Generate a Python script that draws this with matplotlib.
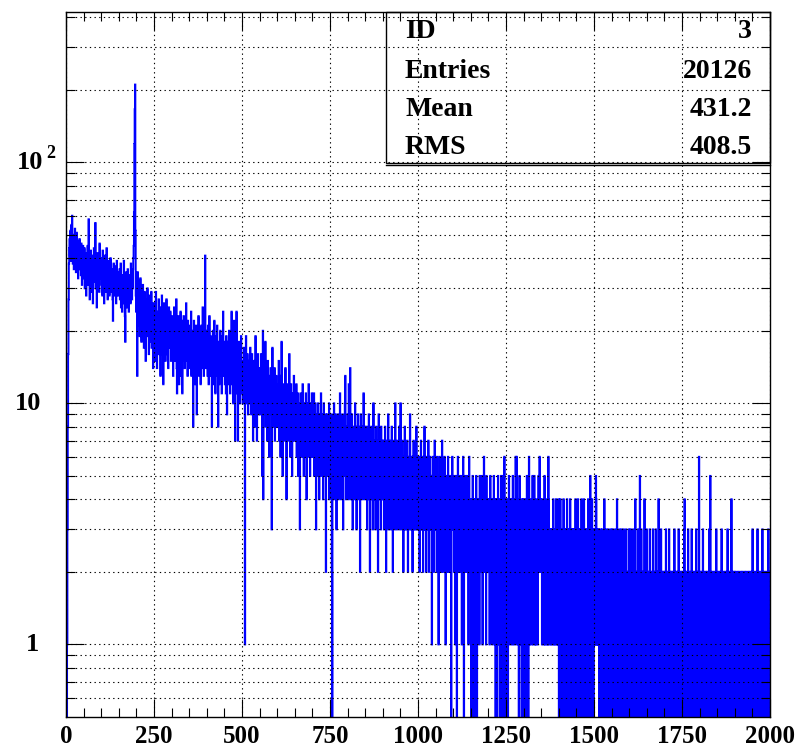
import numpy as np
import matplotlib
matplotlib.use("Agg")
import matplotlib.pyplot as plt
from matplotlib.ticker import FixedLocator, NullFormatter
import matplotlib.transforms as mtrans

# ---------------- data (counts per 1-unit bin, x from 0 to 2000) ----------------
counts_0000 = [
    0, 0, 0, 1, 3, 8, 16, 27, 38, 44,
    48, 41, 52, 39, 45, 55, 43, 60, 47, 38,
    50, 44, 36, 49, 42, 53, 40, 46, 35, 44,
    51, 39, 43, 47, 33, 45, 41, 38, 48, 36,
    44, 40, 34, 46, 39, 31, 42, 37, 45, 33,
    41, 36, 44, 30, 39, 35, 42, 28, 37, 40,
    33, 45, 38, 31, 58, 36, 42, 27, 39, 34,
    43, 37, 29, 41, 35, 38, 26, 40, 36, 44,
    32, 39, 35, 56, 30, 41, 37, 25, 38, 34,
    42, 31, 36, 39, 29, 46, 35, 33, 40, 37,
    36, 31, 39, 28, 43, 34, 30, 37, 26, 35,
    41, 32, 29, 38, 33, 44, 30, 35, 27, 36,
    31, 39, 34, 28, 37, 32, 40, 29, 35, 31,
    36, 33, 27, 22, 34, 38, 30, 35, 28, 33,
    37, 31, 26, 34, 39, 30, 32, 28, 35, 31,
    33, 29, 36, 27, 31, 38, 25, 32, 30, 24,
    34, 28, 31, 26, 39, 29, 33, 23, 18, 30,
    27, 35, 31, 25, 29, 36, 28, 32, 24, 30,
    34, 27, 31, 26, 38, 29, 33, 27, 35, 30,
    36, 40, 45, 62, 119, 166, 210, 52, 28, 24,
]
counts_0200 = [
    27, 31, 13, 35, 24, 29, 21, 26, 30, 19,
    25, 33, 22, 27, 18, 24, 28, 20, 31, 23,
    26, 17, 24, 29, 21, 25, 15, 23, 27, 20,
    24, 30, 19, 22, 26, 16, 23, 28, 21, 18,
    25, 22, 29, 17, 23, 20, 26, 14, 22, 24,
    22, 18, 26, 15, 21, 29, 19, 23, 14, 20,
    24, 17, 22, 27, 16, 21, 19, 25, 13, 20,
    23, 18, 28, 16, 21, 19, 12, 22, 26, 17,
    20, 24, 15, 21, 18, 27, 19, 16, 23, 20,
    14, 22, 25, 18, 21, 17, 24, 19, 15, 22,
    20, 16, 23, 18, 13, 21, 17, 25, 15, 19,
    22, 16, 18, 27, 14, 11, 20, 17, 23, 15,
    19, 12, 21, 18, 16, 24, 13, 19, 17, 22,
    11, 18, 20, 15, 23, 17, 19, 14, 21, 16,
    18, 26, 15, 20, 17, 13, 22, 18, 16, 19,
    17, 21, 14, 18, 16, 24, 13, 19, 15, 20,
    17, 8, 18, 22, 14, 16, 19, 12, 17, 21,
    15, 9, 18, 16, 20, 14, 23, 17, 13, 18,
    16, 19, 12, 15, 21, 17, 14, 18, 25, 15,
    16, 13, 19, 17, 22, 41, 18, 14, 16, 20,
]
counts_0400 = [
    15, 18, 13, 21, 16, 12, 17, 23, 14, 16,
    19, 13, 17, 15, 8, 18, 14, 20, 12, 16,
    15, 22, 13, 17, 11, 16, 19, 14, 15, 21,
    13, 17, 8, 15, 18, 12, 16, 14, 20, 13,
    17, 15, 11, 19, 14, 16, 24, 13, 15, 18,
    14, 12, 17, 15, 11, 19, 13, 9, 16, 14,
    18, 12, 15, 20, 13, 16, 11, 14, 17, 13,
    24, 15, 12, 18, 14, 10, 16, 22, 13, 15,
    7, 14, 17, 12, 24, 15, 11, 16, 7, 13,
    15, 18, 12, 14, 10, 16, 13, 19, 11, 14,
    12, 15, 10, 14, 13, 17, 11, 13, 1, 15,
    12, 19, 14, 10, 13, 16, 12, 9, 14, 11,
    15, 13, 10, 17, 12, 14, 9, 13, 16, 11,
    12, 7, 14, 11, 15, 13, 8, 12, 19, 11,
    13, 10, 7, 14, 12, 16, 11, 13, 9, 12,
    11, 14, 9, 12, 16, 10, 13, 5, 11, 20,
    4, 12, 10, 14, 9, 11, 18, 8, 12, 10,
    13, 7, 11, 15, 9, 12, 10, 6, 13, 11,
    9, 14, 10, 12, 3, 11, 17, 8, 10, 12,
    9, 11, 14, 7, 10, 12, 8, 13, 10, 11,
]
counts_0600 = [
    10, 8, 12, 9, 15, 7, 11, 9, 13, 6,
    10, 8, 18, 9, 11, 5, 10, 8, 12, 9,
    7, 11, 9, 14, 8, 10, 4, 9, 12, 8,
    10, 7, 11, 9, 16, 8, 10, 6, 9, 12,
    8, 10, 5, 9, 11, 7, 10, 13, 8, 9,
    9, 7, 10, 8, 12, 6, 9, 8, 11, 5,
    8, 10, 7, 9, 3, 8, 11, 7, 9, 6,
    10, 8, 12, 7, 9, 5, 8, 10, 6, 9,
    7, 11, 8, 4, 9, 7, 10, 8, 6, 12,
    8, 7, 9, 5, 10, 8, 6, 9, 11, 7,
    8, 6, 9, 7, 11, 5, 8, 6, 10, 7,
    3, 8, 6, 9, 7, 5, 10, 7, 8, 4,
    7, 9, 6, 8, 11, 5, 7, 9, 6, 8,
    4, 7, 10, 6, 8, 5, 7, 9, 2, 7,
    8, 6, 9, 5, 7, 8, 6, 10, 4, 7,
    6, 8, 5, 7, 9, 2, 0, 7, 5, 8,
    6, 10, 4, 7, 6, 9, 5, 7, 3, 8,
    6, 5, 9, 7, 4, 6, 8, 5, 11, 6,
    7, 4, 8, 6, 5, 9, 7, 3, 6, 8,
    5, 7, 10, 13, 6, 4, 8, 6, 7, 5,
]
counts_0800 = [
    9, 6, 4, 12, 7, 5, 8, 14, 6, 4,
    7, 5, 9, 6, 3, 7, 5, 8, 6, 4,
    7, 10, 5, 6, 8, 3, 6, 7, 5, 9,
    4, 6, 8, 5, 7, 2, 6, 9, 5, 7,
    4, 6, 8, 5, 7, 11, 4, 6, 5, 8,
    5, 7, 4, 6, 8, 3, 5, 7, 6, 4,
    9, 5, 6, 2, 7, 5, 4, 8, 6, 5,
    7, 3, 6, 10, 5, 4, 6, 7, 5, 3,
    6, 8, 4, 5, 7, 6, 2, 5, 9, 6,
    4, 5, 7, 6, 3, 8, 5, 4, 6, 7,
    5, 4, 7, 3, 6, 5, 8, 4, 6, 2,
    5, 7, 4, 6, 5, 9, 3, 5, 6, 4,
    7, 5, 3, 6, 4, 8, 5, 6, 2, 5,
    7, 4, 5, 6, 3, 10, 5, 4, 6, 5,
    3, 7, 5, 4, 6, 5, 8, 3, 5, 6,
    10, 4, 6, 3, 5, 7, 4, 5, 2, 6,
    4, 5, 8, 3, 5, 4, 6, 3, 5, 7,
    4, 2, 5, 6, 4, 3, 5, 9, 4, 5,
    3, 6, 4, 5, 2, 6, 4, 7, 3, 5,
    4, 6, 3, 5, 4, 8, 3, 5, 4, 6,
]
counts_1000 = [
    4, 3, 5, 6, 2, 4, 5, 3, 7, 4,
    5, 3, 4, 6, 2, 5, 4, 3, 8, 4,
    3, 5, 4, 2, 6, 4, 5, 3, 4, 7,
    4, 2, 5, 3, 6, 4, 3, 5, 4, 1,
    5, 4, 6, 3, 4, 2, 5, 7, 3, 4,
    3, 5, 4, 2, 6, 3, 4, 5, 1, 4,
    3, 6, 2, 4, 5, 3, 4, 2, 7, 3,
    4, 5, 3, 2, 4, 6, 3, 4, 1, 5,
    3, 4, 2, 5, 3, 6, 4, 2, 4, 3,
    5, 2, 4, 3, 0, 3, 4, 6, 4, 3,
    4, 3, 2, 5, 3, 4, 1, 3, 5, 2,
    0, 4, 3, 6, 2, 4, 3, 5, 2, 3,
    4, 2, 5, 3, 1, 4, 3, 2, 6, 3,
    0, 4, 3, 2, 5, 3, 4, 2, 3, 5,
    2, 4, 3, 1, 4, 6, 3, 2, 4, 3,
    3, 0, 4, 2, 3, 5, 0, 3, 2, 4,
    1, 3, 0, 4, 2, 5, 3, 0, 2, 4,
    3, 2, 4, 3, 1, 5, 3, 2, 4, 3,
    2, 5, 3, 1, 4, 2, 3, 6, 2, 3,
    4, 2, 3, 1, 5, 3, 2, 4, 3, 2,
]
counts_1200 = [
    3, 2, 4, 1, 3, 5, 2, 3, 4, 2,
    3, 1, 4, 2, 3, 5, 2, 3, 1, 4,
    0, 3, 2, 4, 0, 3, 2, 5, 1, 3,
    2, 4, 0, 3, 2, 3, 5, 1, 0, 3,
    5, 4, 3, 0, 2, 6, 1, 4, 2, 3,
    0, 2, 3, 4, 1, 0, 3, 2, 5, 2,
    3, 1, 4, 2, 3, 2, 4, 1, 3, 5,
    2, 3, 1, 4, 2, 3, 2, 6, 1, 3,
    6, 2, 4, 3, 1, 2, 0, 3, 5, 2,
    1, 3, 2, 4, 0, 2, 3, 1, 4, 2,
    3, 0, 2, 4, 1, 3, 2, 0, 3, 5,
    2, 1, 3, 0, 2, 6, 3, 1, 2, 3,
    4, 2, 1, 3, 2, 5, 3, 1, 2, 3,
    5, 4, 1, 3, 2, 1, 3, 4, 2, 3,
    1, 2, 5, 3, 2, 6, 3, 2, 4, 2,
    2, 3, 1, 4, 2, 3, 2, 1, 3, 5,
    2, 1, 3, 2, 4, 1, 2, 3, 2, 1,
    6, 4, 2, 1, 3, 2, 3, 2, 1, 3,
    2, 3, 1, 2, 4, 2, 3, 1, 2, 3,
    1, 2, 4, 3, 2, 1, 3, 2, 1, 4,
]
counts_1400 = [
    0, 3, 2, 1, 4, 0, 2, 3, 1, 2,
    3, 0, 2, 4, 1, 2, 0, 3, 2, 1,
    3, 2, 0, 4, 2, 1, 3, 0, 2, 3,
    1, 2, 4, 0, 2, 3, 1, 2, 3, 0,
    2, 3, 1, 2, 0, 3, 2, 4, 1, 2,
    3, 0, 2, 1, 4, 2, 0, 3, 1, 2,
    0, 3, 2, 1, 4, 2, 0, 2, 3, 1,
    2, 4, 0, 2, 1, 3, 2, 0, 2, 3,
    1, 2, 0, 4, 2, 1, 3, 2, 0, 5,
    3, 1, 2, 0, 4, 2, 1, 3, 0, 2,
    2, 1, 3, 2, 1, 5, 4, 1, 2, 3,
    1, 2, 1, 3, 2, 0, 1, 2, 3, 0,
    2, 1, 0, 3, 1, 2, 0, 1, 2, 4,
    0, 1, 2, 1, 0, 3, 2, 1, 0, 2,
    1, 3, 0, 2, 1, 2, 0, 1, 3, 2,
    0, 2, 1, 3, 0, 1, 2, 2, 0, 1,
    3, 1, 0, 2, 1, 4, 0, 2, 1, 2,
    0, 1, 3, 2, 0, 1, 2, 0, 3, 1,
    2, 0, 1, 2, 3, 0, 2, 1, 1, 0,
    2, 3, 1, 0, 2, 1, 2, 0, 1, 3,
]
counts_1600 = [
    1, 0, 2, 1, 3, 0, 1, 2, 0, 2,
    1, 3, 0, 1, 2, 0, 1, 4, 1, 0,
    2, 1, 0, 2, 1, 3, 0, 1, 2, 1,
    5, 2, 1, 0, 3, 1, 2, 0, 1, 2,
    1, 0, 2, 4, 0, 1, 2, 1, 0, 3,
    1, 2, 0, 1, 2, 1, 0, 2, 3, 0,
    1, 2, 1, 0, 2, 1, 0, 3, 1, 2,
    0, 1, 2, 0, 1, 3, 1, 0, 2, 1,
    2, 0, 1, 4, 0, 2, 1, 0, 2, 1,
    3, 0, 1, 2, 1, 0, 2, 1, 0, 2,
    1, 2, 0, 1, 3, 0, 2, 1, 1, 0,
    2, 1, 0, 3, 1, 2, 0, 1, 2, 0,
    1, 2, 1, 0, 2, 1, 0, 2, 3, 1,
    0, 1, 2, 0, 1, 2, 1, 0, 2, 1,
    3, 0, 1, 2, 0, 1, 2, 1, 0, 2,
    1, 0, 2, 1, 1, 0, 3, 4, 2, 0,
    1, 2, 0, 1, 2, 1, 0, 3, 1, 0,
    2, 1, 1, 0, 2, 1, 0, 3, 1, 2,
    0, 1, 2, 0, 1, 2, 1, 0, 2, 1,
    3, 0, 1, 2, 1, 0, 2, 1, 6, 2,
]
counts_1800 = [
    1, 0, 2, 1, 0, 1, 2, 1, 0, 3,
    1, 0, 2, 1, 1, 0, 2, 1, 0, 2,
    1, 2, 0, 1, 1, 0, 2, 3, 1, 0,
    5, 1, 0, 2, 1, 1, 0, 2, 1, 0,
    2, 1, 0, 1, 2, 0, 1, 3, 1, 0,
    1, 2, 1, 0, 1, 2, 0, 1, 2, 1,
    0, 1, 3, 0, 1, 2, 1, 0, 1, 2,
    1, 0, 2, 1, 0, 1, 2, 1, 0, 3,
    1, 1, 0, 2, 1, 0, 2, 1, 1, 0,
    4, 1, 0, 2, 1, 2, 0, 1, 1, 2,
    1, 2, 1, 0, 1, 2, 1, 1, 0, 2,
    1, 0, 2, 1, 1, 0, 1, 2, 1, 0,
    2, 1, 1, 0, 2, 1, 0, 1, 2, 1,
    1, 0, 2, 1, 0, 1, 2, 1, 1, 0,
    2, 1, 0, 1, 2, 1, 1, 0, 2, 1,
    3, 1, 0, 2, 1, 1, 0, 2, 1, 0,
    1, 2, 0, 1, 3, 1, 0, 2, 1, 1,
    0, 2, 1, 0, 1, 2, 1, 0, 3, 1,
    1, 0, 2, 1, 0, 1, 2, 1, 0, 2,
    1, 1, 0, 2, 1, 3, 0, 1, 2, 1,
]

x_min, x_max = 0, 2000
x_major = [0, 250, 500, 750, 1000, 1250, 1500, 1750, 2000]
x_labels = ["0", "250", "500", "750", "1000", "1250", "1500", "1750", "2000"]
stats_names = ["ID", "Entries", "Mean", "RMS"]
stats_values = ["3", "20126", "431.2", "408.5"]

counts = np.array(counts_0000 + counts_0200 + counts_0400 + counts_0600 + counts_0800
                  + counts_1000 + counts_1200 + counts_1400 + counts_1600 + counts_1800,
                  dtype=float)
edges = np.linspace(x_min, x_max, len(counts) + 1)

# ---------------- figure ----------------
W, H = 801, 751
fig = plt.figure(figsize=(W / 100, H / 100), dpi=100)
L, R, T, B = 66, 770, 12, 717
ax = fig.add_axes([L / W, 1 - B / H, (R - L) / W, (B - T) / H])

ymin, ymax = 0.5, 420
draw = np.where(counts > 0, counts, ymin * 0.1)
ax.stairs(draw, edges, baseline=None, color="#0000ff", lw=1.4)

ax.set_xlim(x_min, x_max)
ax.set_yscale("log")
ax.set_ylim(ymin, ymax)

FONT = "Liberation Serif"
ax.xaxis.set_major_locator(FixedLocator(x_major))
ax.xaxis.set_minor_locator(FixedLocator(np.arange(0, 2001, 50)))
ax.set_xticklabels(x_labels, fontfamily=FONT, fontweight="bold", fontsize=18)

ymaj = [1, 10, 100]
ymin_ticks = [0.6, 0.7, 0.8, 0.9] + list(range(2, 10)) + list(range(20, 100, 10)) + [200, 300, 400]
ax.yaxis.set_major_locator(FixedLocator(ymaj))
ax.yaxis.set_minor_locator(FixedLocator(ymin_ticks))
ax.yaxis.set_major_formatter(NullFormatter())
ax.yaxis.set_minor_formatter(NullFormatter())

ax.tick_params(which="both", direction="in", top=True, right=True, width=0.8, color="black")
ax.tick_params(which="major", length=13)
ax.tick_params(which="minor", length=6.5)
ax.tick_params(axis="x", which="major", pad=6)

grid_kw = dict(color="black", linestyle=(0, (1.2, 3.0)), linewidth=0.8)
ax.grid(True, which="major", axis="x", **grid_kw)
ax.grid(True, which="both", axis="y", **grid_kw)
for s in ax.spines.values():
    s.set_linewidth(1.0)

# y tick labels (ROOT style)
tr = mtrans.blended_transform_factory(ax.transAxes, ax.transData)
lab_kw = dict(fontfamily=FONT, fontweight="bold", transform=tr, va="center")
ax.text((39 - L) / (R - L), 1, "1", ha="right", fontsize=19, **lab_kw)
ax.text((41 - L) / (R - L), 10, "10", ha="right", fontsize=19, **lab_kw)
ax.text((43 - L) / (R - L), 100, "10", ha="right", fontsize=19, **lab_kw)
ax.text((46 - L) / (R - L), 100 * 10 ** (9 / 241), "2", ha="left", fontsize=13, **lab_kw)

# stats box
bx0, bx1, by0, by1 = 386, 770, 12, 163
rect = plt.Rectangle((bx0 / W, 1 - by1 / H), (bx1 - bx0) / W, (by1 - by0) / H,
                     transform=fig.transFigure, fill=False, lw=1.0, color="black")
fig.add_artist(rect)
fig.add_artist(plt.Line2D([bx0 / W, bx1 / W], [1 - (by1 + 2) / H] * 2,
                          transform=fig.transFigure, color="black", lw=1.0))
row_y = [31, 71, 109, 147]
for name, val, yy in zip(stats_names, stats_values, row_y):
    fig.text(405 / W, 1 - yy / H, name, ha="left", va="center",
             fontfamily=FONT, fontweight="bold", fontsize=20)
    fig.text(752 / W, 1 - yy / H, val, ha="right", va="center",
             fontfamily=FONT, fontweight="bold", fontsize=20)

fig.savefig("out.png", dpi=100)
